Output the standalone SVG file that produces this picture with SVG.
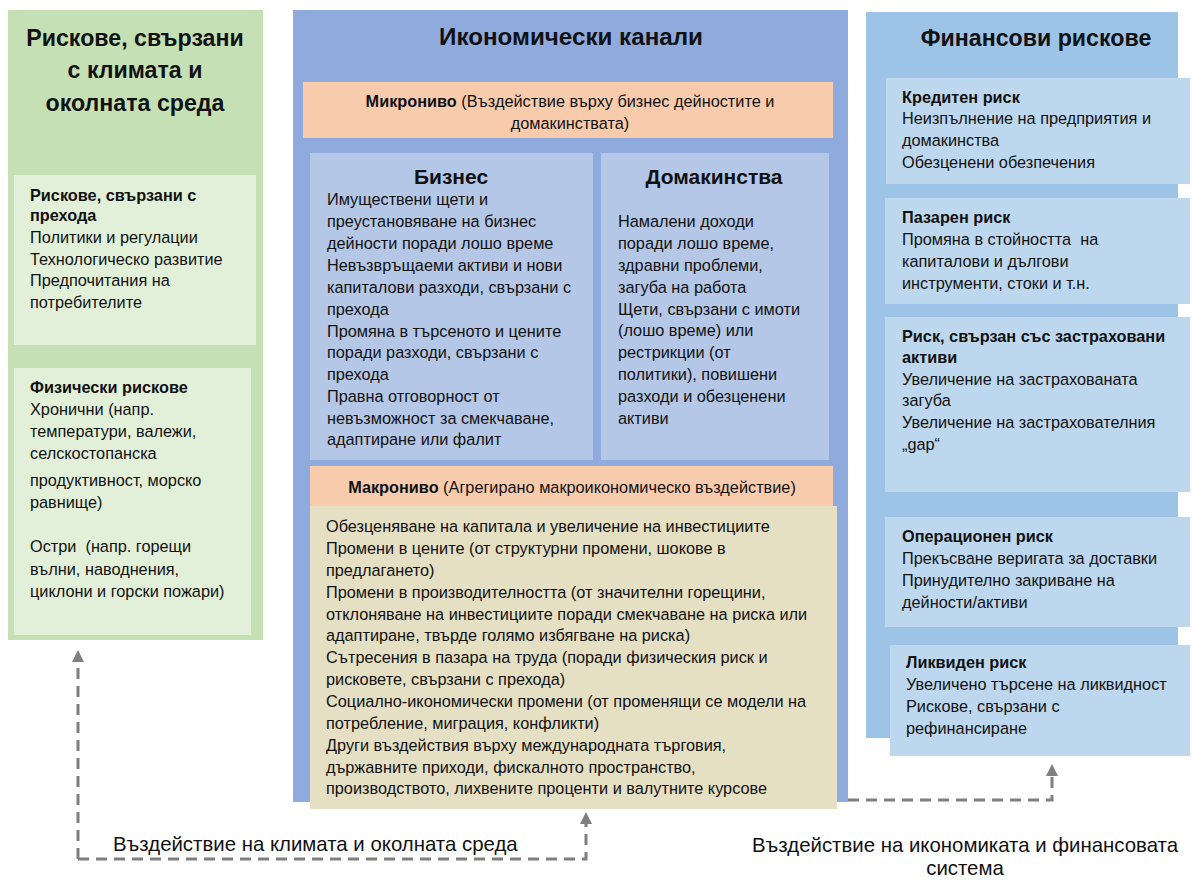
<svg xmlns="http://www.w3.org/2000/svg" width="1192" height="880" viewBox="0 0 1192 880">
<style>
text{font-family:"Liberation Sans","Noto Sans",sans-serif;fill:#111}
.t{font-size:23.2px;font-weight:bold;text-anchor:middle}
.tm{font-size:24.2px;font-weight:bold;text-anchor:middle}
.h{font-size:21px;font-weight:bold;text-anchor:middle}
.b{font-size:16.3px}
.bb{font-size:16.3px;font-weight:bold}
.c{font-size:16.3px;text-anchor:middle}
.lbl{font-size:20.4px}
.pre{white-space:pre}
.dash{fill:none;stroke:#7f7f7f;stroke-width:3;stroke-dasharray:11 7}
</style>
<defs>
<marker id="ah" viewBox="0 0 10 10" refX="0" refY="5" markerWidth="12" markerHeight="12" orient="auto" markerUnits="userSpaceOnUse">
<path d="M0,0 L10,5 L0,10 Z" fill="#7f7f7f"/>
</marker>
</defs>
<rect width="1192" height="880" fill="#fff"/>

<g id="climate">
<rect x="8" y="10" width="255" height="630" fill="#c5e0b4"/>
<text class="t" x="135" y="46">Рискове, свързани</text>
<text class="t" x="135" y="78">с климата и</text>
<text class="t" x="135" y="111">околната среда</text>
</g>
<g id="transition">
<rect x="14" y="175" width="242" height="170" fill="#e2f0d9"/>
<text class="bb" x="30" y="201">Рискове, свързани с</text>
<text class="bb" x="30" y="221">прехода</text>
<text class="b" x="30" y="243">Политики и регулации</text>
<text class="b" x="30" y="265">Технологическо развитие</text>
<text class="b" x="30" y="286">Предпочитания на</text>
<text class="b" x="30" y="308">потребителите</text>
</g>
<g id="physical">
<rect x="14" y="368" width="237" height="267" fill="#e2f0d9"/>
<text class="bb" x="30" y="393">Физически рискове</text>
<text class="b" x="30" y="415">Хронични (напр.</text>
<text class="b" x="30" y="437">температури, валежи,</text>
<text class="b" x="30" y="459">селскостопанска</text>
<text class="b" x="30" y="486">продуктивност, морско</text>
<text class="b" x="30" y="508">равнище)</text>
<text class="b pre" x="30" y="552" xml:space="preserve">Остри  (напр. горещи</text>
<text class="b" x="30" y="575">вълни, наводнения,</text>
<text class="b" x="30" y="597">циклони и горски пожари)</text>
</g>

<g id="economic">
<rect x="293" y="10" width="555" height="792" fill="#8faadc"/>
<text class="tm" x="571" y="45">Икономически канали</text>
</g>
<g id="micro">
<rect x="303" y="82" width="530" height="56" fill="#f8cbad"/>
<text class="c" x="570" y="107"><tspan font-weight="bold">Микрониво</tspan> (Въздействие върху бизнес дейностите и</text>
<text class="c" x="570" y="129">домакинствата)</text>
</g>
<g id="business">
<rect x="310" y="153" width="283" height="307" fill="#b4c7e7"/>
<text class="h" x="451" y="184">Бизнес</text>
<text class="b" x="327" y="205">Имуществени щети и</text>
<text class="b" x="327" y="227">преустановяване на бизнес</text>
<text class="b" x="327" y="249">дейности поради лошо време</text>
<text class="b" x="327" y="271">Невъзвръщаеми активи и нови</text>
<text class="b" x="327" y="293">капиталови разходи, свързани с</text>
<text class="b" x="327" y="315">прехода</text>
<text class="b" x="327" y="337">Промяна в търсеното и цените</text>
<text class="b" x="327" y="358">поради разходи, свързани с</text>
<text class="b" x="327" y="380">прехода</text>
<text class="b" x="327" y="402">Правна отговорност от</text>
<text class="b" x="327" y="424">невъзможност за смекчаване,</text>
<text class="b" x="327" y="445">адаптиране или фалит</text>
</g>
<g id="households">
<rect x="601" y="153" width="228" height="307" fill="#b4c7e7"/>
<text class="h" x="714" y="184">Домакинства</text>
<text class="b" x="618" y="227">Намалени доходи</text>
<text class="b" x="618" y="249">поради лошо време,</text>
<text class="b" x="618" y="271">здравни проблеми,</text>
<text class="b" x="618" y="293">загуба на работа</text>
<text class="b" x="618" y="315">Щети, свързани с имоти</text>
<text class="b" x="618" y="336">(лошо време) или</text>
<text class="b" x="618" y="358">рестрикции (от</text>
<text class="b" x="618" y="380">политики), повишени</text>
<text class="b" x="618" y="402">разходи и обезценени</text>
<text class="b" x="618" y="424">активи</text>
</g>
<g id="macro">
<rect x="310" y="466" width="523" height="40" fill="#f8cbad"/>
<rect x="310" y="506" width="527" height="303" fill="#e5dfc3"/>
<text class="c" x="572" y="493"><tspan font-weight="bold">Макрониво</tspan> (Агрегирано макроикономическо въздействие)</text>
<text class="b" x="326" y="532">Обезценяване на капитала и увеличение на инвестициите</text>
<text class="b" x="326" y="554">Промени в цените (от структурни промени, шокове в</text>
<text class="b" x="326" y="576">предлагането)</text>
<text class="b" x="326" y="598">Промени в производителността (от значителни горещини,</text>
<text class="b" x="326" y="620">отклоняване на инвестициите поради смекчаване на риска или</text>
<text class="b" x="326" y="641">адаптиране, твърде голямо избягване на риска)</text>
<text class="b" x="326" y="663">Сътресения в пазара на труда (поради физическия риск и</text>
<text class="b" x="326" y="685">рисковете, свързани с прехода)</text>
<text class="b" x="326" y="707">Социално-икономически промени (от променящи се модели на</text>
<text class="b" x="326" y="729">потребление, миграция, конфликти)</text>
<text class="b" x="326" y="751">Други въздействия върху международната търговия,</text>
<text class="b" x="326" y="773">държавните приходи, фискалното пространство,</text>
<text class="b" x="326" y="794">производството, лихвените проценти и валутните курсове</text>
</g>

<g id="financial">
<rect x="866" y="12" width="312" height="726" fill="#9dc3e6"/>
<text class="t" x="1036" y="46">Финансови рискове</text>
</g>
<g id="credit">
<rect x="886" y="78" width="304" height="106" fill="#bdd7ee"/>
<text class="bb" x="902" y="103">Кредитен риск</text>
<text class="b" x="902" y="124">Неизпълнение на предприятия и</text>
<text class="b" x="902" y="146">домакинства</text>
<text class="b" x="902" y="168">Обезценени обезпечения</text>
</g>
<g id="market">
<rect x="885" y="198" width="305" height="106" fill="#bdd7ee"/>
<text class="bb" x="902" y="223">Пазарен риск</text>
<text class="b pre" x="902" y="245" xml:space="preserve">Промяна в стойността  на</text>
<text class="b" x="902" y="267">капиталови и дългови</text>
<text class="b" x="902" y="289">инструменти, стоки и т.н.</text>
</g>
<g id="insurance">
<rect x="885" y="317" width="305" height="175" fill="#bdd7ee"/>
<text class="bb" x="902" y="342">Риск, свързан със застраховани</text>
<text class="bb" x="902" y="363">активи</text>
<text class="b" x="902" y="385">Увеличение на застрахованата</text>
<text class="b" x="902" y="406">загуба</text>
<text class="b" x="902" y="428">Увеличение на застрахователния</text>
<text class="b" x="902" y="450">„gap“</text>
</g>
<g id="operational">
<rect x="885" y="517" width="305" height="110" fill="#bdd7ee"/>
<text class="bb" x="902" y="542">Операционен риск</text>
<text class="b" x="902" y="564">Прекъсване веригата за доставки</text>
<text class="b" x="902" y="586">Принудително закриване на</text>
<text class="b" x="902" y="608">дейности/активи</text>
</g>
<g id="liquidity">
<rect x="890" y="645" width="300" height="111" fill="#bdd7ee"/>
<text class="bb" x="906" y="668">Ликвиден риск</text>
<text class="b" x="906" y="690">Увеличено търсене на ликвидност</text>
<text class="b" x="906" y="712">Рискове, свързани с</text>
<text class="b" x="906" y="734">рефинансиране</text>
</g>

<g id="connectors">
<path class="dash" d="M78,859 L78,662" marker-end="url(#ah)"/>
<path class="dash" d="M78,859 L586,859 L586,824" marker-end="url(#ah)"/>
<path class="dash" d="M848,800 L1052,800 L1052,776" marker-end="url(#ah)"/>
<text class="lbl" x="113" y="851">Въздействие на климата и околната среда</text>
<text class="lbl" x="965" y="852" text-anchor="middle">Въздействие на икономиката и финансовата</text>
<text class="lbl" x="965" y="875" text-anchor="middle">система</text>
</g>
</svg>
